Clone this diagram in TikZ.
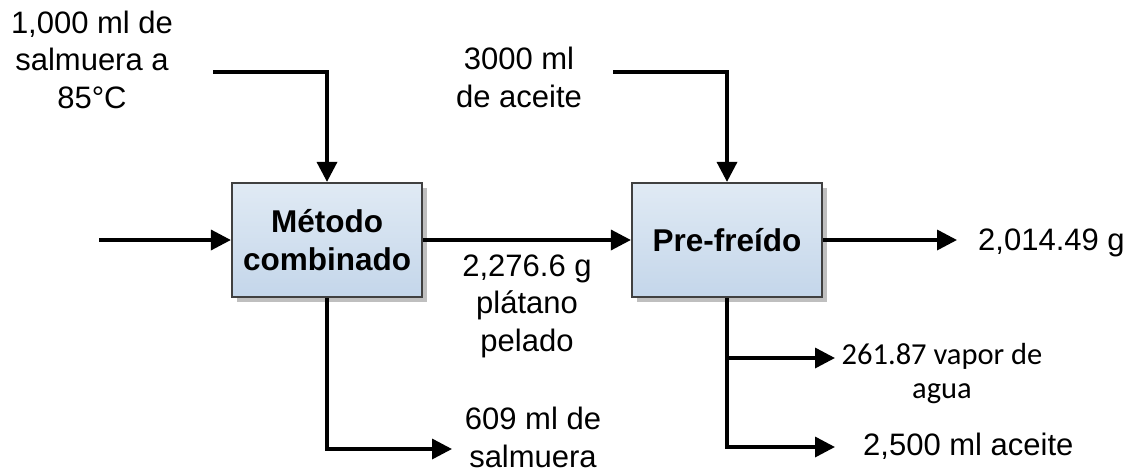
\documentclass[tikz,border=0pt]{standalone}
\usepackage{fontspec}
\setmainfont{Liberation Sans}
\newfontfamily\calib{Carlito}
\usetikzlibrary{arrows.meta,shadows}
\definecolor{boxtop}{HTML}{E0EAF4}
\definecolor{boxbot}{HTML}{C4D6EA}
\definecolor{boxline}{HTML}{404040}
\definecolor{shadowgray}{HTML}{BFBFBF}
\tikzset{
  procbox/.style={draw=boxline, line width=2.2pt, top color=boxtop, bottom color=boxbot,
    minimum width=190pt, minimum height=114pt, inner sep=0pt, align=center,
    font=\fontsize{31.5}{38}\selectfont\bfseries,
    drop shadow={shadow xshift=5pt, shadow yshift=-5pt, fill=shadowgray, opacity=1}},
  arr/.style={line width=3.5pt, -{Triangle[length=20pt,width=20pt]}},
  lbl/.style={inner sep=0pt, align=center, font=\fontsize{31}{37.5}\selectfont},
  lblc/.style={inner sep=0pt, align=center, font=\calib\fontsize{30.5}{34}\selectfont}
}
\begin{document}
\begin{tikzpicture}[x=1pt, y=-1pt]
\useasboundingbox[fill=white] (0,0) rectangle (1131,474);
% boxes
\node[procbox] (m1) at (327,240) {Método\\combinado};
\node[procbox] (m2) at (727,240) {Pre-freído};
% free ends
\coordinate (inL) at (99,240);
\coordinate (t1) at (213,72);
\coordinate (t2) at (613,72);
\coordinate (o1) at (957,240);
\coordinate (b1) at (452,449);
\coordinate (b2) at (835,447);
\coordinate (v1) at (835,358);
% connectors
\draw[arr] (inL) -- (m1.west);
\draw[arr] (t1) -| (m1.north);
\draw[arr] (t2) -| (m2.north);
\draw[arr] (m1.east) -- (m2.west);
\draw[arr] (m2.east) -- (o1);
\draw[arr] (m1.south) |- (b1);
\draw[arr] (m2.south) |- (b2);
\draw[arr] (m2.south |- v1) -- (v1);
% labels (base anchor = baseline of the last line)
\node[lbl, anchor=base] (l1) at (92,108) {1,000 ml de\\salmuera a\\85°C};
\node[lbl, anchor=base] (l2) at (519,107) {3000 ml\\de aceite};
\node[lbl, anchor=base] (l3) at (527,351) {2,276.6 g\\plátano\\pelado};
\node[lbl, anchor=base west] (l4) at (978,250) {2,014.49 g};
\node[lbl, anchor=base] (l5) at (533,467) {609 ml de\\salmuera};
\node[lblc, anchor=base] (l6) at (942,398) {261.87 vapor de\\agua};
\node[lbl, anchor=base west] (l7) at (863,455) {2,500 ml aceite};
\end{tikzpicture}
\end{document}
